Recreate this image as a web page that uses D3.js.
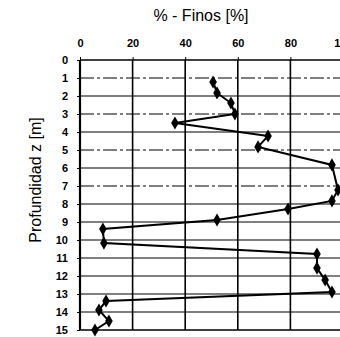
<!DOCTYPE html>
<html>
<head>
<meta charset="utf-8">
<script src="https://cdn.jsdelivr.net/npm/d3@7"></script>
<style>
  body { margin: 0; background: #fff; }
  svg { display: block; font-family: "Liberation Sans", Arial, sans-serif; }
</style>
</head>
<body>
<div id="chart"></div>
<script>
// % fines, with depth z [m]
var finos = [50.6, 52.1, 57.4, 58.9, 36.1, 71.5, 67.7, 95.8, 98.1, 95.8, 79.1,
  52.1, 8.7, 9.1, 90.1, 90.1, 93.2, 95.8, 9.9, 7.2, 11.0, 5.7];
var depth = [1.22, 1.83, 2.39, 3.0, 3.5, 4.22, 4.83, 5.83, 7.22, 7.83, 8.28,
  8.89, 9.39, 10.17, 10.78, 11.56, 12.22, 12.89, 13.39, 13.89, 14.5, 15.0];
var xTicks = [0, 20, 40, 60, 80, 100];
var yTicks = d3.range(0, 16);

var data = finos.map(function(v, i) { return { x: v, z: depth[i] }; });

// plot area (the right edge runs past the window, as in the picture)
var margin = { top: 60, left: 80 },
    width = 263,
    height = 270;

var svg = d3.select("#chart")
  .append("svg")
  .attr("width", 340)
  .attr("height", 337);

var g = svg.append("g")
  .attr("transform", "translate(" + margin.left + "," + margin.top + ")");

var x = d3.scaleLinear().domain([0, 100]).range([0, width]);
var y = d3.scaleLinear().domain([0, 15]).range([0, height]);

// horizontal grid
g.selectAll(".hgrid")
  .data(yTicks)
  .enter()
  .append("line")
  .attr("x1", 0)
  .attr("x2", width)
  .attr("y1", function(d) { return y(d); })
  .attr("y2", function(d) { return y(d); })
  .attr("stroke", "#000")
  .attr("stroke-width", function(d) { return d == 0 || d == 15 ? 1.6 : 1.1; })
  .attr("stroke-dasharray", function(d) { return d % 2 == 1 && d < 9 ? "14,3,3,3" : null; });

// vertical grid
g.selectAll(".vgrid")
  .data(xTicks)
  .enter()
  .append("line")
  .attr("x1", function(d) { return x(d); })
  .attr("x2", function(d) { return x(d); })
  .attr("y1", 0)
  .attr("y2", height)
  .attr("stroke", "#000")
  .attr("stroke-width", function(d) { return d == 0 ? 2.2 : 1.6; });

// top axis
var xAxis = g.append("g")
  .call(d3.axisTop(x).tickValues(xTicks).tickSize(3).tickPadding(10));
xAxis.select(".domain").remove();
xAxis.selectAll("text")
  .style("font-size", "11px")
  .style("font-weight", "bold")
  .attr("fill", "#000");

// left axis
var yAxis = g.append("g")
  .call(d3.axisLeft(y).tickValues(yTicks).tickSize(3).tickPadding(9));
yAxis.select(".domain").remove();
yAxis.selectAll("text")
  .style("font-size", "11px")
  .style("font-weight", "bold")
  .attr("fill", "#000");

// titles
svg.append("text")
  .attr("x", 201)
  .attr("y", 21)
  .attr("text-anchor", "middle")
  .style("font-size", "16px")
  .text("% - Finos [%]");

svg.append("text")
  .attr("transform", "translate(41,180) rotate(-90)")
  .attr("text-anchor", "middle")
  .style("font-size", "16px")
  .text("Profundidad z [m]");

// profile line
var line = d3.line()
  .x(function(d) { return x(d.x); })
  .y(function(d) { return y(d.z); });

g.append("path")
  .datum(data)
  .attr("d", line)
  .attr("fill", "none")
  .attr("stroke", "#000")
  .attr("stroke-width", 2);

g.selectAll(".pt")
  .data(data)
  .enter()
  .append("path")
  .attr("d", d3.symbol().type(d3.symbolDiamond).size(50))
  .attr("transform", function(d) { return "translate(" + x(d.x) + "," + y(d.z) + ")"; })
  .attr("fill", "#000");
</script>
</body>
</html>
